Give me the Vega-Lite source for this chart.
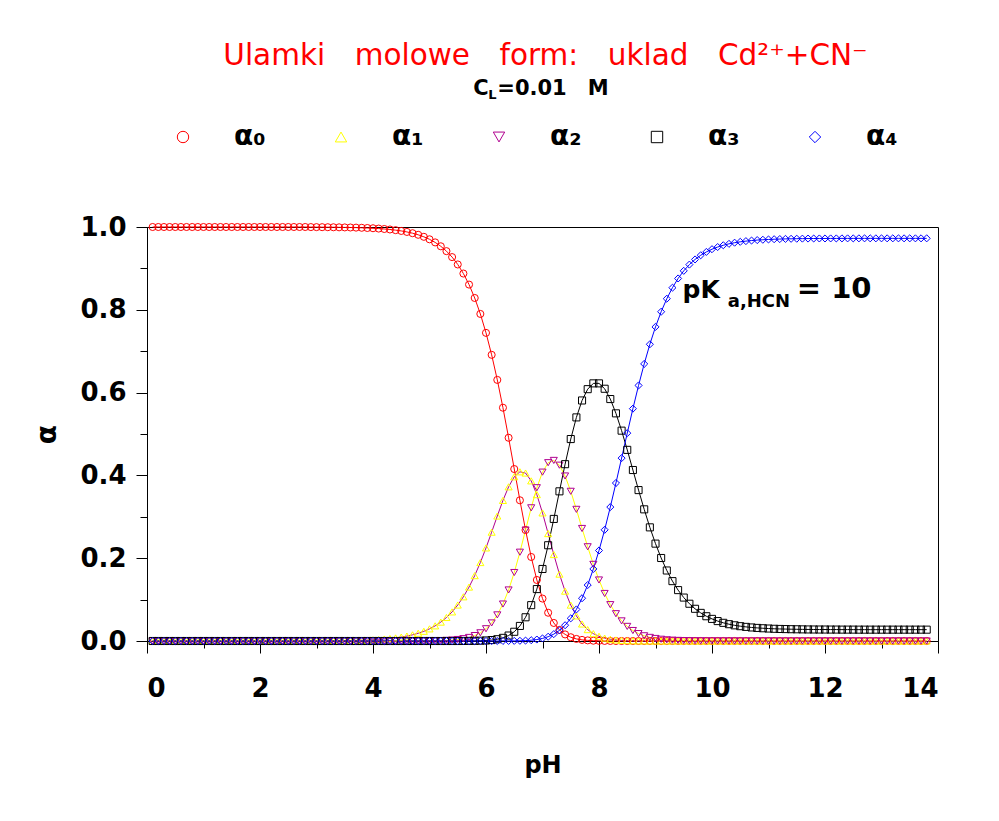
{
  "$schema": "https://vega.github.io/schema/vega-lite/v6.json",
  "width": 791,
  "height": 414,
  "autosize": {"type": "none"},
  "padding": {"left": 147, "top": 227, "right": 61, "bottom": 180},
  "background": "white",
  "config": {
    "view": {"stroke": "black", "strokeWidth": 1},
    "font": "DejaVu Sans"
  },
  "title": {
    "text": "Ulamki\u2002\u2002molowe\u2002\u2002form:\u2002\u2002uklad\u2002\u2002Cd²⁺+CN⁻",
    "color": "#ff0000",
    "font": "DejaVu Sans",
    "fontSize": 29.5,
    "fontWeight": "normal",
    "anchor": "middle",
    "frame": "group",
    "offset": 6,
    "dx": 3
  },
  "data": {
    "values": [
      {"pH":0.1,"a0":1,"a1":0,"a2":0,"a3":0,"a4":0},
      {"pH":0.2,"a0":1,"a1":0,"a2":0,"a3":0,"a4":0},
      {"pH":0.3,"a0":1,"a1":0,"a2":0,"a3":0,"a4":0},
      {"pH":0.4,"a0":1,"a1":0,"a2":0,"a3":0,"a4":0},
      {"pH":0.5,"a0":1,"a1":0,"a2":0,"a3":0,"a4":0},
      {"pH":0.6,"a0":1,"a1":0,"a2":0,"a3":0,"a4":0},
      {"pH":0.7,"a0":1,"a1":0,"a2":0,"a3":0,"a4":0},
      {"pH":0.8,"a0":1,"a1":0,"a2":0,"a3":0,"a4":0},
      {"pH":0.9,"a0":1,"a1":0,"a2":0,"a3":0,"a4":0},
      {"pH":1.0,"a0":1,"a1":0,"a2":0,"a3":0,"a4":0},
      {"pH":1.1,"a0":1,"a1":0,"a2":0,"a3":0,"a4":0},
      {"pH":1.2,"a0":1,"a1":0,"a2":0,"a3":0,"a4":0},
      {"pH":1.3,"a0":1,"a1":0,"a2":0,"a3":0,"a4":0},
      {"pH":1.4,"a0":1,"a1":0,"a2":0,"a3":0,"a4":0},
      {"pH":1.5,"a0":1,"a1":0,"a2":0,"a3":0,"a4":0},
      {"pH":1.6,"a0":1,"a1":0,"a2":0,"a3":0,"a4":0},
      {"pH":1.7,"a0":1,"a1":0,"a2":0,"a3":0,"a4":0},
      {"pH":1.8,"a0":1,"a1":0,"a2":0,"a3":0,"a4":0},
      {"pH":1.9,"a0":1,"a1":0,"a2":0,"a3":0,"a4":0},
      {"pH":2.0,"a0":1,"a1":0,"a2":0,"a3":0,"a4":0},
      {"pH":2.1,"a0":1,"a1":0,"a2":0,"a3":0,"a4":0},
      {"pH":2.2,"a0":1,"a1":0,"a2":0,"a3":0,"a4":0},
      {"pH":2.3,"a0":1,"a1":0,"a2":0,"a3":0,"a4":0},
      {"pH":2.4,"a0":1,"a1":0,"a2":0,"a3":0,"a4":0},
      {"pH":2.5,"a0":1,"a1":0,"a2":0,"a3":0,"a4":0},
      {"pH":2.6,"a0":1,"a1":0,"a2":0,"a3":0,"a4":0},
      {"pH":2.7,"a0":1,"a1":0,"a2":0,"a3":0,"a4":0},
      {"pH":2.8,"a0":1,"a1":0,"a2":0,"a3":0,"a4":0},
      {"pH":2.9,"a0":0.9998,"a1":0.0002,"a2":0,"a3":0,"a4":0},
      {"pH":3.0,"a0":0.9997,"a1":0.0003,"a2":0,"a3":0,"a4":0},
      {"pH":3.1,"a0":0.9996,"a1":0.0004,"a2":0,"a3":0,"a4":0},
      {"pH":3.2,"a0":0.9995,"a1":0.0005,"a2":0,"a3":0,"a4":0},
      {"pH":3.3,"a0":0.9994,"a1":0.0006,"a2":0,"a3":0,"a4":0},
      {"pH":3.4,"a0":0.9992,"a1":0.0008,"a2":0,"a3":0,"a4":0},
      {"pH":3.5,"a0":0.999,"a1":0.001,"a2":0,"a3":0,"a4":0},
      {"pH":3.6,"a0":0.9988,"a1":0.0012,"a2":0,"a3":0,"a4":0},
      {"pH":3.7,"a0":0.9985,"a1":0.0015,"a2":0,"a3":0,"a4":0},
      {"pH":3.8,"a0":0.9981,"a1":0.0019,"a2":0,"a3":0,"a4":0},
      {"pH":3.9,"a0":0.9976,"a1":0.0024,"a2":0,"a3":0,"a4":0},
      {"pH":4.0,"a0":0.997,"a1":0.003,"a2":0,"a3":0,"a4":0},
      {"pH":4.1,"a0":0.9962,"a1":0.0038,"a2":0,"a3":0,"a4":0},
      {"pH":4.2,"a0":0.9952,"a1":0.0048,"a2":0,"a3":0,"a4":0},
      {"pH":4.3,"a0":0.994,"a1":0.006,"a2":0,"a3":0,"a4":0},
      {"pH":4.4,"a0":0.9924,"a1":0.0075,"a2":0.0001,"a3":0,"a4":0},
      {"pH":4.5,"a0":0.9905,"a1":0.0095,"a2":0.0001,"a3":0,"a4":0},
      {"pH":4.6,"a0":0.9881,"a1":0.0119,"a2":0.0001,"a3":0,"a4":0},
      {"pH":4.7,"a0":0.985,"a1":0.0149,"a2":0.0001,"a3":0,"a4":0},
      {"pH":4.8,"a0":0.9812,"a1":0.0187,"a2":0.0002,"a3":0,"a4":0},
      {"pH":4.9,"a0":0.9763,"a1":0.0234,"a2":0.0002,"a3":0,"a4":0},
      {"pH":5.0,"a0":0.9703,"a1":0.0293,"a2":0.0004,"a3":0,"a4":0},
      {"pH":5.1,"a0":0.9628,"a1":0.0366,"a2":0.0006,"a3":0,"a4":0},
      {"pH":5.2,"a0":0.9534,"a1":0.0456,"a2":0.001,"a3":0,"a4":0},
      {"pH":5.3,"a0":0.9417,"a1":0.0568,"a2":0.0015,"a3":0,"a4":0},
      {"pH":5.4,"a0":0.9273,"a1":0.0703,"a2":0.0023,"a3":0,"a4":0},
      {"pH":5.5,"a0":0.9095,"a1":0.0869,"a2":0.0036,"a3":0,"a4":0},
      {"pH":5.6,"a0":0.8876,"a1":0.1067,"a2":0.0056,"a3":0.0001,"a4":0},
      {"pH":5.7,"a0":0.8609,"a1":0.1303,"a2":0.0086,"a3":0.0002,"a4":0},
      {"pH":5.8,"a0":0.8286,"a1":0.1579,"a2":0.0131,"a3":0.0004,"a4":0},
      {"pH":5.9,"a0":0.79,"a1":0.1895,"a2":0.0198,"a3":0.0007,"a4":0},
      {"pH":6.0,"a0":0.7443,"a1":0.2248,"a2":0.0296,"a3":0.0013,"a4":0},
      {"pH":6.1,"a0":0.6912,"a1":0.2628,"a2":0.0436,"a3":0.0023,"a4":0},
      {"pH":6.2,"a0":0.6307,"a1":0.3019,"a2":0.0631,"a3":0.0043,"a4":0},
      {"pH":6.3,"a0":0.5635,"a1":0.3395,"a2":0.0893,"a3":0.0076,"a4":0.0001},
      {"pH":6.4,"a0":0.4909,"a1":0.3724,"a2":0.1233,"a3":0.0132,"a4":0.0001},
      {"pH":6.5,"a0":0.4154,"a1":0.3967,"a2":0.1654,"a3":0.0223,"a4":0.0003},
      {"pH":6.6,"a0":0.3399,"a1":0.4087,"a2":0.2145,"a3":0.0364,"a4":0.0005},
      {"pH":6.7,"a0":0.268,"a1":0.4057,"a2":0.268,"a3":0.0573,"a4":0.001},
      {"pH":6.8,"a0":0.203,"a1":0.3868,"a2":0.3217,"a3":0.0866,"a4":0.0019},
      {"pH":6.9,"a0":0.1474,"a1":0.3535,"a2":0.3702,"a3":0.1254,"a4":0.0035},
      {"pH":7.0,"a0":0.1025,"a1":0.3094,"a2":0.4079,"a3":0.174,"a4":0.0062},
      {"pH":7.1,"a0":0.0683,"a1":0.2595,"a2":0.4307,"a3":0.2313,"a4":0.0103},
      {"pH":7.2,"a0":0.0436,"a1":0.2088,"a2":0.4362,"a3":0.2949,"a4":0.0166},
      {"pH":7.3,"a0":0.0268,"a1":0.1615,"a2":0.4247,"a3":0.3615,"a4":0.0256},
      {"pH":7.4,"a0":0.0159,"a1":0.1204,"a2":0.3986,"a3":0.4271,"a4":0.0381},
      {"pH":7.5,"a0":0.0091,"a1":0.0867,"a2":0.3616,"a3":0.4878,"a4":0.0547},
      {"pH":7.6,"a0":0.005,"a1":0.0606,"a2":0.318,"a3":0.5401,"a4":0.0763},
      {"pH":7.7,"a0":0.0027,"a1":0.0411,"a2":0.2718,"a3":0.581,"a4":0.1033},
      {"pH":7.8,"a0":0.0015,"a1":0.0275,"a2":0.2276,"a3":0.6083,"a4":0.1352},
      {"pH":7.9,"a0":0.0007,"a1":0.0178,"a2":0.1851,"a3":0.6223,"a4":0.174},
      {"pH":8.0,"a0":0.0004,"a1":0.0113,"a2":0.1474,"a3":0.6223,"a4":0.2186},
      {"pH":8.1,"a0":0.0002,"a1":0.007,"a2":0.1148,"a3":0.6093,"a4":0.2686},
      {"pH":8.2,"a0":0.0001,"a1":0.0043,"a2":0.0878,"a3":0.5844,"a4":0.3235},
      {"pH":8.3,"a0":0,"a1":0.0026,"a2":0.0659,"a3":0.5499,"a4":0.3816},
      {"pH":8.4,"a0":0,"a1":0.0015,"a2":0.0486,"a3":0.5081,"a4":0.4418},
      {"pH":8.5,"a0":0,"a1":0.0009,"a2":0.0353,"a3":0.4617,"a4":0.5021},
      {"pH":8.6,"a0":0,"a1":0.0005,"a2":0.0253,"a3":0.413,"a4":0.5612},
      {"pH":8.7,"a0":0,"a1":0.0003,"a2":0.0179,"a3":0.3645,"a4":0.6173},
      {"pH":8.8,"a0":0,"a1":0.0002,"a2":0.0126,"a3":0.318,"a4":0.6693},
      {"pH":8.9,"a0":0,"a1":0.0001,"a2":0.0087,"a3":0.2745,"a4":0.7167},
      {"pH":9.0,"a0":0,"a1":0.0001,"a2":0.0061,"a3":0.2352,"a4":0.7587},
      {"pH":9.1,"a0":0,"a1":0,"a2":0.0042,"a3":0.2005,"a4":0.7953},
      {"pH":9.2,"a0":0,"a1":0,"a2":0.0029,"a3":0.1703,"a4":0.8268},
      {"pH":9.3,"a0":0,"a1":0,"a2":0.002,"a3":0.1446,"a4":0.8534},
      {"pH":9.4,"a0":0,"a1":0,"a2":0.0014,"a3":0.1229,"a4":0.8757},
      {"pH":9.5,"a0":0,"a1":0,"a2":0.001,"a3":0.1049,"a4":0.8941},
      {"pH":9.6,"a0":0,"a1":0,"a2":0.0007,"a3":0.09,"a4":0.9092},
      {"pH":9.7,"a0":0,"a1":0,"a2":0.0005,"a3":0.0778,"a4":0.9216},
      {"pH":9.8,"a0":0,"a1":0,"a2":0.0004,"a3":0.0679,"a4":0.9317},
      {"pH":9.9,"a0":0,"a1":0,"a2":0.0003,"a3":0.0598,"a4":0.9398},
      {"pH":10.0,"a0":0,"a1":0,"a2":0.0003,"a3":0.0534,"a4":0.9464},
      {"pH":10.1,"a0":0,"a1":0,"a2":0.0002,"a3":0.0481,"a4":0.9516},
      {"pH":10.2,"a0":0,"a1":0,"a2":0.0002,"a3":0.0439,"a4":0.9559},
      {"pH":10.3,"a0":0,"a1":0,"a2":0.0001,"a3":0.0406,"a4":0.9593},
      {"pH":10.4,"a0":0,"a1":0,"a2":0.0001,"a3":0.0379,"a4":0.9621},
      {"pH":10.5,"a0":0,"a1":0,"a2":0.0001,"a3":0.0358,"a4":0.9642},
      {"pH":10.6,"a0":0,"a1":0,"a2":0.0001,"a3":0.0341,"a4":0.9659},
      {"pH":10.7,"a0":0,"a1":0,"a2":0.0001,"a3":0.0327,"a4":0.9673},
      {"pH":10.8,"a0":0,"a1":0,"a2":0.0001,"a3":0.0316,"a4":0.9684},
      {"pH":10.9,"a0":0,"a1":0,"a2":0.0001,"a3":0.0308,"a4":0.9692},
      {"pH":11.0,"a0":0,"a1":0,"a2":0.0001,"a3":0.0301,"a4":0.9699},
      {"pH":11.1,"a0":0,"a1":0,"a2":0,"a3":0.0295,"a4":0.9705},
      {"pH":11.2,"a0":0,"a1":0,"a2":0,"a3":0.0291,"a4":0.9709},
      {"pH":11.3,"a0":0,"a1":0,"a2":0,"a3":0.0288,"a4":0.9713},
      {"pH":11.4,"a0":0,"a1":0,"a2":0,"a3":0.0285,"a4":0.9715},
      {"pH":11.5,"a0":0,"a1":0,"a2":0,"a3":0.0283,"a4":0.9717},
      {"pH":11.6,"a0":0,"a1":0,"a2":0,"a3":0.0281,"a4":0.9719},
      {"pH":11.7,"a0":0,"a1":0,"a2":0,"a3":0.0279,"a4":0.9721},
      {"pH":11.8,"a0":0,"a1":0,"a2":0,"a3":0.0278,"a4":0.9722},
      {"pH":11.9,"a0":0,"a1":0,"a2":0,"a3":0.0277,"a4":0.9723},
      {"pH":12.0,"a0":0,"a1":0,"a2":0,"a3":0.0277,"a4":0.9723},
      {"pH":12.1,"a0":0,"a1":0,"a2":0,"a3":0.0276,"a4":0.9724},
      {"pH":12.2,"a0":0,"a1":0,"a2":0,"a3":0.0276,"a4":0.9724},
      {"pH":12.3,"a0":0,"a1":0,"a2":0,"a3":0.0275,"a4":0.9725},
      {"pH":12.4,"a0":0,"a1":0,"a2":0,"a3":0.0275,"a4":0.9725},
      {"pH":12.5,"a0":0,"a1":0,"a2":0,"a3":0.0275,"a4":0.9725},
      {"pH":12.6,"a0":0,"a1":0,"a2":0,"a3":0.0274,"a4":0.9726},
      {"pH":12.7,"a0":0,"a1":0,"a2":0,"a3":0.0274,"a4":0.9726},
      {"pH":12.8,"a0":0,"a1":0,"a2":0,"a3":0.0274,"a4":0.9726},
      {"pH":12.9,"a0":0,"a1":0,"a2":0,"a3":0.0274,"a4":0.9726},
      {"pH":13.0,"a0":0,"a1":0,"a2":0,"a3":0.0274,"a4":0.9726},
      {"pH":13.1,"a0":0,"a1":0,"a2":0,"a3":0.0274,"a4":0.9726},
      {"pH":13.2,"a0":0,"a1":0,"a2":0,"a3":0.0274,"a4":0.9726},
      {"pH":13.3,"a0":0,"a1":0,"a2":0,"a3":0.0274,"a4":0.9726},
      {"pH":13.4,"a0":0,"a1":0,"a2":0,"a3":0.0274,"a4":0.9726},
      {"pH":13.5,"a0":0,"a1":0,"a2":0,"a3":0.0274,"a4":0.9726},
      {"pH":13.6,"a0":0,"a1":0,"a2":0,"a3":0.0274,"a4":0.9726},
      {"pH":13.7,"a0":0,"a1":0,"a2":0,"a3":0.0274,"a4":0.9726},
      {"pH":13.8,"a0":0,"a1":0,"a2":0,"a3":0.0274,"a4":0.9726}
    ]
  },
  "transform": [{"fold": ["a0", "a1", "a2", "a3", "a4"], "as": ["series", "value"]}],
  "layer": [
    {
      "mark": {"type": "line", "strokeWidth": 1},
      "encoding": {
        "x": {
          "field": "pH", "type": "quantitative",
          "scale": {"domain": [0, 14], "nice": false, "zero": false},
          "axis": {
            "title": "pH",
            "values": [0,1,2,3,4,5,6,7,8,9,10,11,12,13,14],
            "labelExpr": "datum.value % 2 == 1 ? '' : format(datum.value, 'd')",
            "tickSize": {"condition": {"test": "datum.value % 2 == 1", "value": 7}, "value": 12},
            "grid": false,
            "domainColor": "black",
            "tickColor": "black",
            "labelColor": "black",
            "labelFont": "DejaVu Sans",
            "labelFontSize": 26,
            "labelFontWeight": "bold",
            "labelPadding": 22,
            "titleFont": "DejaVu Sans",
            "titleFontSize": 24,
            "titleFontWeight": "bold",
            "titleColor": "black",
            "titlePadding": 52
          }
        },
        "y": {
          "field": "value", "type": "quantitative",
          "scale": {"domain": [0, 1], "nice": false},
          "axis": {
            "title": "α",
            "values": [0,0.1,0.2,0.3,0.4,0.5,0.6,0.7,0.8,0.9,1.0],
            "labelExpr": "round(datum.value*10) % 2 == 1 ? '' : format(datum.value, '.1f')",
            "tickSize": {"condition": {"test": "round(datum.value*10) % 2 == 1", "value": 7}, "value": 11},
            "grid": false,
            "domainColor": "black",
            "tickColor": "black",
            "labelColor": "black",
            "labelFont": "DejaVu Sans",
            "labelFontSize": 26,
            "labelFontWeight": "bold",
            "labelPadding": 10,
            "titleFont": "DejaVu Sans",
            "titleFontSize": 28,
            "titleFontWeight": "bold",
            "titleColor": "black",
            "titlePadding": 18
          }
        },
        "stroke": {
          "field": "series", "type": "nominal",
          "scale": {"range": ["#ff0000", "#b0008f", "#ffff00", "#000000", "#0000ff"]},
          "legend": null
        }
      }
    },
    {
      "mark": {"type": "point", "filled": false, "strokeWidth": 1, "size": 50, "opacity": 1},
      "encoding": {
        "x": {"field": "pH", "type": "quantitative"},
        "y": {"field": "value", "type": "quantitative"},
        "color": {
          "field": "series", "type": "nominal",
          "scale": {"domain": ["a0", "a1", "a2", "a3", "a4"], "range": ["#ff0000", "#ffff00", "#b0008f", "#000000", "#0000ff"]},
          "legend": {
            "title": null,
            "orient": "none",
            "legendX": 22,
            "legendY": -104,
            "direction": "horizontal",
            "columns": 5,
            "columnPadding": 61,
            "labelOffset": 37,
            "symbolSize": 130,
            "symbolStrokeWidth": 1,
            "symbolFillColor": "transparent",
            "labelFont": "DejaVu Sans",
            "labelFontSize": 28,
            "labelFontWeight": "bold",
            "labelColor": "black",
            "labelExpr": "datum.label == 'a0' ? 'α₀' : datum.label == 'a1' ? 'α₁' : datum.label == 'a2' ? 'α₂' : datum.label == 'a3' ? 'α₃' : 'α₄'"
          }
        },
        "shape": {
          "field": "series", "type": "nominal",
          "scale": {"domain": ["a0", "a1", "a2", "a3", "a4"], "range": ["circle", "triangle-up", "triangle-down", "square", "diamond"]}
        }
      }
    },
    {
      "data": {"values": [{"t": "C"}]},
      "mark": {"type": "text", "align": "left", "baseline": "alphabetic", "font": "DejaVu Sans", "fontSize": 21, "fontWeight": "bold", "color": "black"},
      "encoding": {
        "x": {"datum": 5.775, "type": "quantitative"},
        "y": {"datum": 1.319, "type": "quantitative"},
        "text": {"field": "t"}
      }
    },
    {
      "data": {"values": [{"t": "L"}]},
      "mark": {"type": "text", "align": "left", "baseline": "alphabetic", "font": "DejaVu Sans", "fontSize": 13, "fontWeight": "bold", "color": "black"},
      "encoding": {
        "x": {"datum": 6.04, "type": "quantitative"},
        "y": {"datum": 1.31, "type": "quantitative"},
        "text": {"field": "t"}
      }
    },
    {
      "data": {"values": [{"t": "=0.01\u2002\u2002M"}]},
      "mark": {"type": "text", "align": "left", "baseline": "alphabetic", "font": "DejaVu Sans", "fontSize": 21, "fontWeight": "bold", "color": "black"},
      "encoding": {
        "x": {"datum": 6.2, "type": "quantitative"},
        "y": {"datum": 1.319, "type": "quantitative"},
        "text": {"field": "t"}
      }
    },
    {
      "data": {"values": [{"t": "pK"}]},
      "mark": {"type": "text", "align": "left", "baseline": "alphabetic", "font": "DejaVu Sans", "fontSize": 25, "fontWeight": "bold", "color": "black"},
      "encoding": {
        "x": {"datum": 9.48, "type": "quantitative"},
        "y": {"datum": 0.829, "type": "quantitative"},
        "text": {"field": "t"}
      }
    },
    {
      "data": {"values": [{"t": "a,HCN"}]},
      "mark": {"type": "text", "align": "left", "baseline": "alphabetic", "font": "DejaVu Sans", "fontSize": 18, "fontWeight": "bold", "color": "black"},
      "encoding": {
        "x": {"datum": 10.28, "type": "quantitative"},
        "y": {"datum": 0.806, "type": "quantitative"},
        "text": {"field": "t"}
      }
    },
    {
      "data": {"values": [{"t": "= 10"}]},
      "mark": {"type": "text", "align": "left", "baseline": "alphabetic", "font": "DejaVu Sans", "fontSize": 29, "fontWeight": "bold", "color": "black"},
      "encoding": {
        "x": {"datum": 11.5, "type": "quantitative"},
        "y": {"datum": 0.829, "type": "quantitative"},
        "text": {"field": "t"}
      }
    }
  ]
}
